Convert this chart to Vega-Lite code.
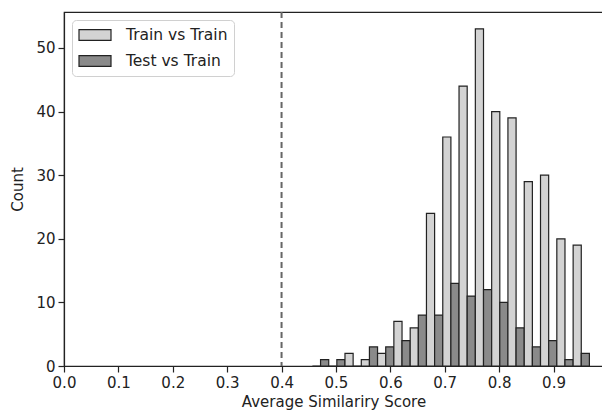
{
  "$schema": "https://vega.github.io/schema/vega-lite/v6.json",
  "width": 539,
  "height": 354,
  "autosize": "none",
  "padding": {"left": 64, "top": 12, "right": 0, "bottom": 47},
  "background": "white",
  "config": {
    "font": "DejaVu Sans",
    "scale": {"continuousPadding": 0},
    "view": {"stroke": "#222", "strokeWidth": 1.2},
    "axis": {
      "domainColor": "#222", "tickColor": "#222", "labelColor": "#222", "titleColor": "#222",
      "labelFontSize": 15, "titleFontSize": 15, "titleFontWeight": "normal", "grid": false,
      "tickSize": 6, "domainWidth": 1.2, "tickWidth": 1.2, "labelPadding": 3, "offset": 0,
      "labelFlush": false, "labelOverlap": false
    }
  },
  "data": {
    "values": [
      {"b0": 0.4567, "b1": 0.4867, "group": "Train vs Train", "count": 0},
      {"b0": 0.4567, "b1": 0.4867, "group": "Test vs Train", "count": 1},
      {"b0": 0.4867, "b1": 0.5166, "group": "Train vs Train", "count": 0},
      {"b0": 0.4867, "b1": 0.5166, "group": "Test vs Train", "count": 1},
      {"b0": 0.5166, "b1": 0.5466, "group": "Train vs Train", "count": 2},
      {"b0": 0.5166, "b1": 0.5466, "group": "Test vs Train", "count": 0},
      {"b0": 0.5466, "b1": 0.5765, "group": "Train vs Train", "count": 1},
      {"b0": 0.5466, "b1": 0.5765, "group": "Test vs Train", "count": 3},
      {"b0": 0.5765, "b1": 0.6065, "group": "Train vs Train", "count": 2},
      {"b0": 0.5765, "b1": 0.6065, "group": "Test vs Train", "count": 3},
      {"b0": 0.6065, "b1": 0.6365, "group": "Train vs Train", "count": 7},
      {"b0": 0.6065, "b1": 0.6365, "group": "Test vs Train", "count": 4},
      {"b0": 0.6365, "b1": 0.6664, "group": "Train vs Train", "count": 6},
      {"b0": 0.6365, "b1": 0.6664, "group": "Test vs Train", "count": 8},
      {"b0": 0.6664, "b1": 0.6964, "group": "Train vs Train", "count": 24},
      {"b0": 0.6664, "b1": 0.6964, "group": "Test vs Train", "count": 8},
      {"b0": 0.6964, "b1": 0.7263, "group": "Train vs Train", "count": 36},
      {"b0": 0.6964, "b1": 0.7263, "group": "Test vs Train", "count": 13},
      {"b0": 0.7263, "b1": 0.7563, "group": "Train vs Train", "count": 44},
      {"b0": 0.7263, "b1": 0.7563, "group": "Test vs Train", "count": 11},
      {"b0": 0.7563, "b1": 0.7863, "group": "Train vs Train", "count": 53},
      {"b0": 0.7563, "b1": 0.7863, "group": "Test vs Train", "count": 12},
      {"b0": 0.7863, "b1": 0.8162, "group": "Train vs Train", "count": 40},
      {"b0": 0.7863, "b1": 0.8162, "group": "Test vs Train", "count": 10},
      {"b0": 0.8162, "b1": 0.8462, "group": "Train vs Train", "count": 39},
      {"b0": 0.8162, "b1": 0.8462, "group": "Test vs Train", "count": 6},
      {"b0": 0.8462, "b1": 0.8761, "group": "Train vs Train", "count": 29},
      {"b0": 0.8462, "b1": 0.8761, "group": "Test vs Train", "count": 3},
      {"b0": 0.8761, "b1": 0.9061, "group": "Train vs Train", "count": 30},
      {"b0": 0.8761, "b1": 0.9061, "group": "Test vs Train", "count": 4},
      {"b0": 0.9061, "b1": 0.9361, "group": "Train vs Train", "count": 20},
      {"b0": 0.9061, "b1": 0.9361, "group": "Test vs Train", "count": 1},
      {"b0": 0.9361, "b1": 0.9660, "group": "Train vs Train", "count": 19},
      {"b0": 0.9361, "b1": 0.9660, "group": "Test vs Train", "count": 2}
    ]
  },
  "layer": [
    {
      "transform": [
        {"calculate": "(datum.b0 + datum.b1) / 2", "as": "mid"},
        {"calculate": "datum.group === 'Train vs Train' ? datum.b0 : datum.mid", "as": "lo"},
        {"calculate": "datum.group === 'Train vs Train' ? datum.mid : datum.b1", "as": "hi"}
      ],
      "mark": {"type": "bar", "stroke": "#222", "strokeWidth": 1.2, "clip": true},
      "encoding": {
        "x": {
          "field": "lo", "type": "quantitative",
          "scale": {"domain": [0, 0.991], "nice": false, "zero": false, "padding": 0},
          "axis": {"values": [0, 0.1, 0.2, 0.3, 0.4, 0.5, 0.6, 0.7, 0.8, 0.9], "format": ".1f", "title": "Average Similariry Score", "titlePadding": 4}
        },
        "x2": {"field": "hi"},
        "y": {
          "field": "count", "type": "quantitative",
          "scale": {"domain": [0, 55.65], "nice": false, "padding": 0},
          "axis": {"values": [0, 10, 20, 30, 40, 50], "title": "Count", "titlePadding": 10}
        },
        "y2": {"datum": 0},
        "fill": {
          "field": "group", "type": "nominal",
          "scale": {"domain": ["Train vs Train", "Test vs Train"], "range": ["#d3d3d3", "#8a8a8a"]},
          "legend": {
            "title": null, "orient": "top-left", "offset": 8,
            "fillColor": "white", "strokeColor": "#d0d0d0", "cornerRadius": 4,
            "padding": 6, "labelFontSize": 15.5, "labelColor": "#222",
            "symbolType": "M-2,-0.68H2V0.68H-2Z", "symbolSize": 256, "symbolOffset": 8,
            "symbolStrokeColor": "#222", "symbolStrokeWidth": 1.2, "symbolOpacity": 1,
            "rowPadding": 8, "labelOffset": 22
          }
        }
      }
    },
    {
      "data": {"values": [{"threshold": 0.4}]},
      "mark": {"type": "rule", "color": "#666", "strokeWidth": 2, "strokeDash": [6, 4]},
      "encoding": {"x": {"field": "threshold", "type": "quantitative"}}
    }
  ]
}
